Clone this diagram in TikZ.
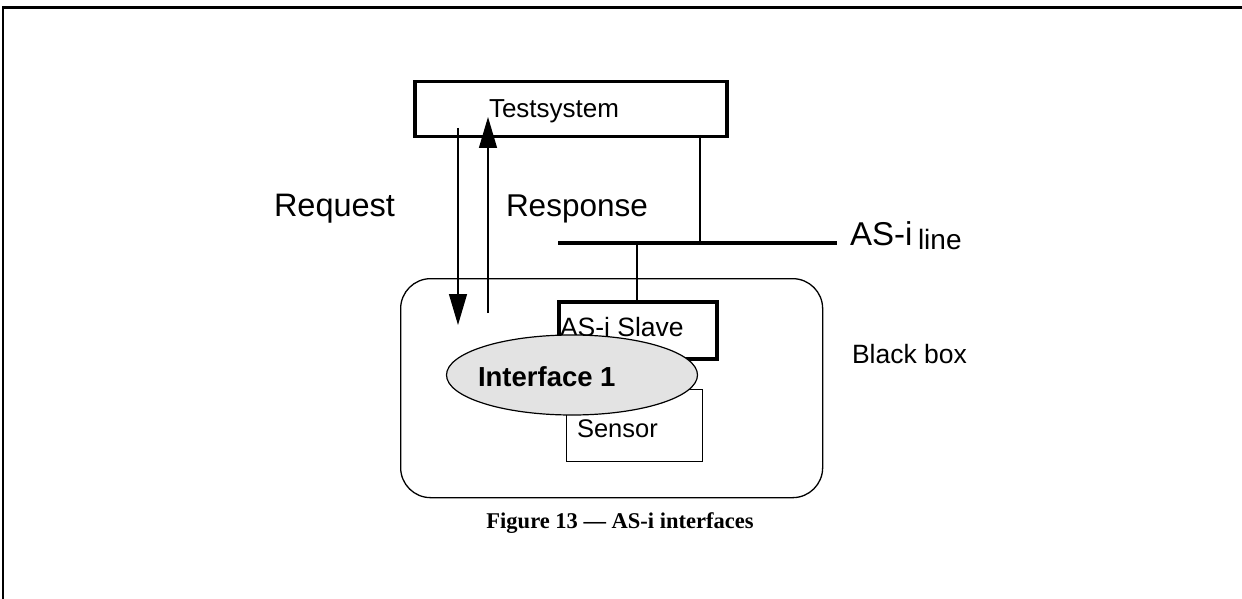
\documentclass[tikz,border=0pt]{standalone}
\usepackage{fontspec}
\setmainfont{Liberation Sans}
\newfontfamily\capfont{Liberation Serif}
\usetikzlibrary{shapes.geometric,arrows.meta}
\tikzset{
  lbl/.style={anchor=base west,inner sep=0pt,outer sep=0pt},
  boxthick/.style={draw,line width=3.5pt,inner sep=0pt,anchor=north west},
  boxthin/.style={draw,line width=1.2pt,inner sep=0pt,anchor=north west},
  wire/.style={line width=1.3pt},
  arr/.style={line width=1.3pt,-{Triangle[length=31pt,width=18pt]}},
}
\newcommand{\fs}[1]{\fontsize{#1}{#1}\selectfont}
\begin{document}
\begin{tikzpicture}[x=1pt,y=-1pt]
\useasboundingbox (0,0) rectangle (1242,599);
% frame
\draw[line width=3pt] (2,8) -- (1242,8);
\draw[line width=1.5pt] (3,7) -- (3,599);
% black box
\node[draw,line width=1.3pt,rounded corners=30pt,minimum width=422pt,minimum height=219pt,inner sep=0pt,anchor=north west] (bb) at (400,278) {};
% Testsystem box
\node[boxthick,minimum width=312pt,minimum height=55pt] (ts) at (413,80) {};
\node[lbl] (tstxt) at (489,118) {\fs{26}Testsystem};
% sensor box
\node[boxthin,minimum width=136pt,minimum height=72pt,fill=white] (sensor) at (566,389) {};
\node[lbl] (sensortxt) at (577,437) {\fs{25.5}Sensor};
% AS-i slave box
\node[boxthick,minimum width=158pt,minimum height=57pt,fill=white] (slave) at (557,300) {};
\node[lbl] (slavetxt) at (560,336) {\fs{26.5}AS-i Slave};
% ellipse
\node[ellipse,draw,line width=1.2pt,fill=black!11,minimum width=251pt,minimum height=80pt,inner sep=0pt] (iface) at (572,375) {};
\node[lbl] (ifacetxt) at (478,386) {\fs{27.5}\bfseries Interface 1};
% AS-i line
\coordinate (la) at (558,243);
\coordinate (lb) at (837,243);
\draw[line width=4pt] (la) -- (lb);
\coordinate (tsdrop) at (700,135);
\coordinate (tsjoin) at (700,243);
\draw[wire] (tsdrop) -- (tsjoin);
\coordinate (sljoin) at (637,243);
\coordinate (sltop) at (637,300);
\draw[wire] (sljoin) -- (sltop);
\node[lbl] (asi) at (850,245) {\fs{33}AS-i};
\node[lbl] (line) at (918,249) {\fs{28}line};
% request / response
\coordinate (rqs) at (458,128);
\coordinate (rqe) at (458,325);
\draw[arr] (rqs) -- (rqe);
\coordinate (rps) at (488,313);
\coordinate (rpe) at (488,117);
\draw[arr] (rps) -- (rpe);
\node[lbl] (req) at (274,216) {\fs{32.5}Request};
\node[lbl] (resp) at (506,216) {\fs{31.5}Response};
\node[lbl] (bbtxt) at (852,363) {\fs{26.5}Black box};
% caption
\node[anchor=base,inner sep=0pt] (cap) at (620,528) {\capfont\fs{22.5}\bfseries Figure 13 — AS-i interfaces};
\end{tikzpicture}
\end{document}
